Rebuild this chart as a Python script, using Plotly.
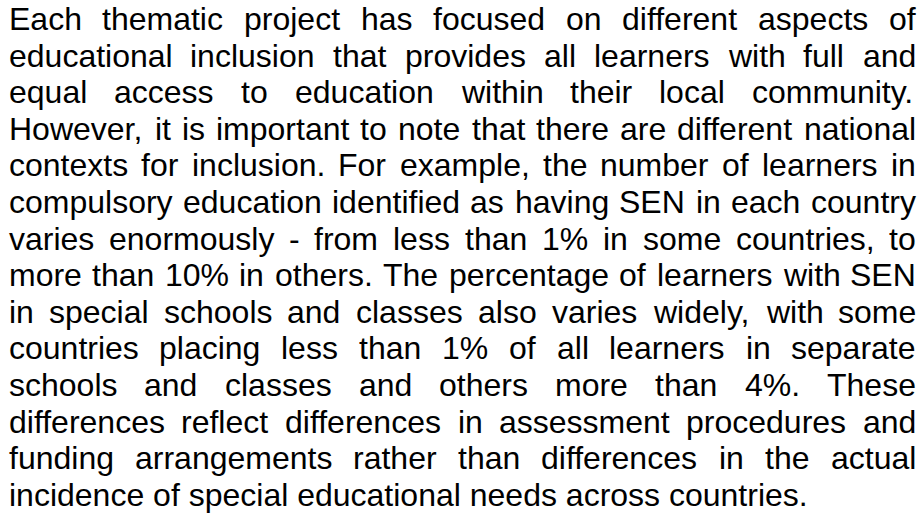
import plotly.graph_objects as go

# Paragraph text, one entry per rendered line (last line is not justified)
lines = [
    "Each thematic project has focused on different aspects of",
    "educational inclusion that provides all learners with full and",
    "equal access to education within their local community.",
    "However, it is important to note that there are different national",
    "contexts for inclusion. For example, the number of learners in",
    "compulsory education identified as having SEN in each country",
    "varies enormously - from less than 1% in some countries, to",
    "more than 10% in others. The percentage of learners with SEN",
    "in special schools and classes also varies widely, with some",
    "countries placing less than 1% of all learners in separate",
    "schools and classes and others more than 4%. These",
    "differences reflect differences in assessment procedures and",
    "funding arrangements rather than differences in the actual",
    "incidence of special educational needs across countries.",
]
justified = [True] * 13 + [False]

# Arial / Liberation Sans advance widths (units per 1000 em)
W = {
    ' ': 278, 'a': 556, 'b': 556, 'c': 500, 'd': 556, 'e': 556, 'f': 278, 'g': 556,
    'h': 556, 'i': 222, 'j': 222, 'k': 500, 'l': 222, 'm': 833, 'n': 556, 'o': 556,
    'p': 556, 'q': 556, 'r': 333, 's': 500, 't': 278, 'u': 556, 'v': 500, 'w': 722,
    'x': 500, 'y': 500, 'z': 500, '.': 278, ',': 278, '-': 333, '%': 889,
    'A': 667, 'B': 667, 'C': 722, 'D': 722, 'E': 667, 'F': 611, 'G': 778, 'H': 722,
    'I': 278, 'J': 500, 'K': 667, 'L': 556, 'M': 833, 'N': 722, 'O': 778, 'P': 667,
    'Q': 778, 'R': 722, 'S': 667, 'T': 611, 'U': 722, 'V': 667, 'W': 944, 'X': 667,
    'Y': 667, 'Z': 611,
}
for dch in "0123456789":
    W[dch] = 556

FIG_W, FIG_H = 924, 514
FS = 32
LEFT, RIGHT = 8.5, 916.0
BASE0, LINE_H = 30.0, 36.6
FONT = dict(family="Liberation Sans, Arial, sans-serif", size=FS, color="#000000")


def width(s):
    return sum(W.get(ch, 556) for ch in s) * FS / 1000.0


annotations = []
for i, (line, just) in enumerate(zip(lines, justified)):
    baseline = BASE0 + i * LINE_H
    yc = baseline - 0.345 * FS
    if just:
        words = line.split(" ")
        total = sum(width(w) for w in words)
        gap = (RIGHT - LEFT - total) / (len(words) - 1)
        x = LEFT
        for w in words:
            annotations.append(dict(x=x, y=yc, xref="x", yref="y", text=w,
                                    showarrow=False, xanchor="left", yanchor="middle",
                                    font=FONT, borderpad=0, borderwidth=0))
            x += width(w) + gap
    else:
        annotations.append(dict(x=LEFT, y=yc, xref="x", yref="y", text=line,
                                showarrow=False, xanchor="left", yanchor="middle",
                                font=FONT, borderpad=0, borderwidth=0))

fig = go.Figure()
fig.update_layout(
    width=FIG_W, height=FIG_H,
    margin=dict(l=0, r=0, t=0, b=0),
    paper_bgcolor="white", plot_bgcolor="white",
    xaxis=dict(range=[0, FIG_W], visible=False, fixedrange=True),
    yaxis=dict(range=[FIG_H, 0], visible=False, fixedrange=True),
    annotations=annotations,
    showlegend=False,
)
fig.write_html(
    "out.html",
    config={"displayModeBar": False},
    post_script="document.body.style.margin='0px';document.body.style.overflow='hidden';",
)
